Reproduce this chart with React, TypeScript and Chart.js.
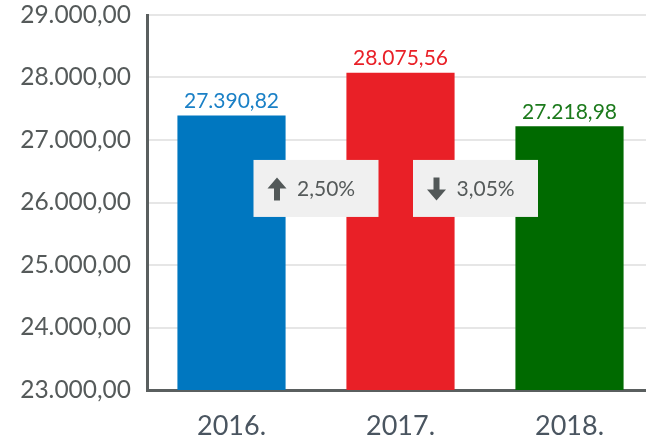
import React, { useEffect, useRef } from "react";
import { Chart, registerables } from "chart.js";

Chart.register(...registerables);

const categories = ["2016.", "2017.", "2018."];
const values = [27390.82, 28075.56, 27218.98];
const barColors = ["#0077c0", "#e92027", "#006a00"];
const labelColors = ["#1a80c6", "#e92027", "#1c7a1c"];
const yMin = 23000;
const yMax = 29000;
const yStep = 1000;
const badgeValue = 26225;

// horizontal nudges of the change badges (layout only)
const BADGE_SHIFT = [0, -9.5];

function fmt(v: number): string {
  const fixed = Math.abs(v).toFixed(2);
  const [intPart, dec] = fixed.split(".");
  const withDots = intPart.replace(/\B(?=(\d{3})+(?!\d))/g, ".");
  return (v < 0 ? "-" : "") + withDots + "," + dec;
}

const FONT = "Lato, 'Open Sans', sans-serif";

const overlayPlugin = {
  id: "overlay",
  afterDatasetsDraw(chart: any) {
    const ctx = chart.ctx as CanvasRenderingContext2D;
    const meta = chart.getDatasetMeta(0);
    const yScale = chart.scales.y;
    ctx.save();
    ctx.font = `21px ${FONT}`;
    ctx.textAlign = "center";
    ctx.textBaseline = "bottom";
    meta.data.forEach((bar: any, i: number) => {
      ctx.fillStyle = labelColors[i];
      ctx.fillText(fmt(values[i]), bar.x, bar.y - 4);
    });
    for (let i = 0; i < values.length - 1; i++) {
      const pct = ((values[i + 1] - values[i]) / values[i]) * 100;
      const up = pct >= 0;
      const cx = (meta.data[i].x + meta.data[i + 1].x) / 2 + (BADGE_SHIFT[i] || 0);
      const cy = yScale.getPixelForValue(badgeValue);
      const w = 125;
      const h = 57;
      ctx.fillStyle = "#f0f0f0";
      ctx.fillRect(cx - w / 2, cy - h / 2, w, h);
      const ax = cx - 39;
      ctx.fillStyle = "#525858";
      ctx.beginPath();
      if (up) {
        const top = cy - 11;
        ctx.moveTo(ax, top);
        ctx.lineTo(ax + 9.5, top + 11);
        ctx.lineTo(ax + 3, top + 11);
        ctx.lineTo(ax + 3, top + 23);
        ctx.lineTo(ax - 3, top + 23);
        ctx.lineTo(ax - 3, top + 11);
        ctx.lineTo(ax - 9.5, top + 11);
      } else {
        const bot = cy + 12;
        ctx.moveTo(ax, bot);
        ctx.lineTo(ax + 9.5, bot - 11);
        ctx.lineTo(ax + 3, bot - 11);
        ctx.lineTo(ax + 3, bot - 23);
        ctx.lineTo(ax - 3, bot - 23);
        ctx.lineTo(ax - 3, bot - 11);
        ctx.lineTo(ax - 9.5, bot - 11);
      }
      ctx.closePath();
      ctx.fill();
      ctx.font = `21px ${FONT}`;
      ctx.textAlign = "left";
      ctx.textBaseline = "middle";
      ctx.fillStyle = "#555a5a";
      ctx.fillText(Math.abs(pct).toFixed(2).replace(".", ",") + "%", cx - 19, cy + 1);
    }
    ctx.restore();
  },
};

export default function App() {
  const canvasRef = useRef<HTMLCanvasElement | null>(null);

  useEffect(() => {
    if (!canvasRef.current) return;
    const chart = new Chart(canvasRef.current, {
      type: "bar",
      data: {
        labels: categories,
        datasets: [
          {
            data: values,
            backgroundColor: barColors,
            borderWidth: 0,
            barPercentage: 0.64,
            categoryPercentage: 1,
          },
        ],
      },
      options: {
        responsive: false,
        animation: false,
        devicePixelRatio: 1,
        layout: { autoPadding: false, padding: { top: 15, left: 0, right: 0, bottom: 0 } },
        plugins: {
          legend: { display: false },
          title: { display: false },
          tooltip: { enabled: false },
        },
        scales: {
          x: {
            grid: { display: false, drawTicks: false },
            border: { display: true, color: "#5a5f5f", width: 3 },
            ticks: {
              color: "#4a5560",
              font: { family: FONT, size: 27 },
              padding: 20,
            },
            afterFit: (scale: any) => {
              scale.height = 50;
              scale.paddingLeft = 0;
              scale.paddingRight = 0;
              scale.paddingTop = 0;
              scale.paddingBottom = 0;
            },
          },
          y: {
            min: yMin,
            max: yMax,
            grid: { color: "#e6e6e6", lineWidth: 2, drawTicks: false },
            border: { display: true, color: "#5a5f5f", width: 3 },
            ticks: {
              stepSize: yStep,
              color: "#555a5a",
              font: { family: FONT, size: 24.5 },
              padding: 16,
              callback: (v: any) => fmt(Number(v)),
            },
            afterFit: (scale: any) => {
              scale.width = 147;
              scale.paddingTop = 0;
              scale.paddingBottom = 0;
              scale.paddingLeft = 0;
              scale.paddingRight = 0;
            },
          },
        },
      },
      plugins: [overlayPlugin],
    });
    return () => chart.destroy();
  }, []);

  return (
    <div style={{ position: "fixed", left: 0, top: 0, width: 646, height: 440, overflow: "hidden", background: "#fff" }}>
      <canvas ref={canvasRef} width={654} height={440} style={{ display: "block", width: 654, height: 440 }} />
    </div>
  );
}
